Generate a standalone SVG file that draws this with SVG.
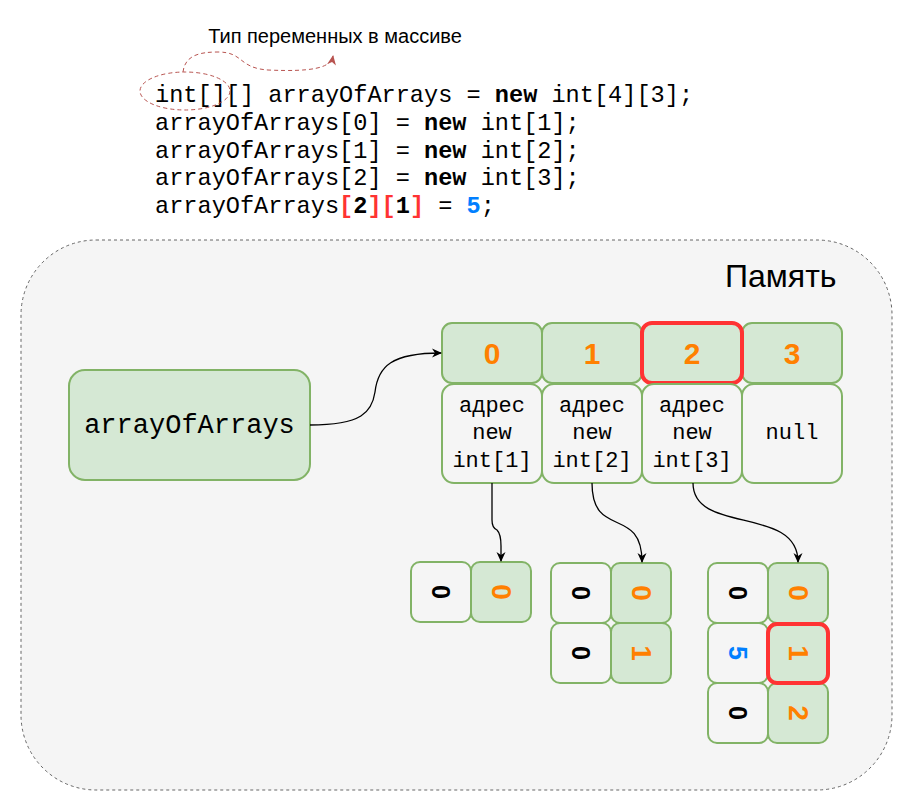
<svg xmlns="http://www.w3.org/2000/svg" width="912" height="812" viewBox="0 0 912 812">
<defs>
<style>
.code{font-family:"Liberation Mono","Courier New",monospace;font-size:23.6px;fill:#000;}
.b{font-weight:bold;}
.g{fill:#d5e8d4;stroke:#82b366;stroke-width:2;}
.w{fill:#f5f5f5;stroke:#82b366;stroke-width:2;}
.hl{fill:none;stroke:#ff3333;stroke-width:4;}
.idx{font-family:"Liberation Sans",Arial,sans-serif;font-size:30px;font-weight:bold;fill:#ff8000;text-anchor:middle;}
.mono{font-family:"Liberation Mono","Courier New",monospace;font-size:22px;fill:#000;text-anchor:middle;}
.rot{font-family:"Liberation Sans",Arial,sans-serif;font-size:25px;font-weight:bold;text-anchor:middle;dominant-baseline:central;}
.rot2{font-family:"Liberation Sans",Arial,sans-serif;font-size:28px;font-weight:bold;text-anchor:middle;dominant-baseline:central;fill:#ff8000;}
.conn{fill:none;stroke:#000;stroke-width:1.3;}
</style>
<marker id="arr" viewBox="0 0 10 10" refX="9" refY="5" markerWidth="10" markerHeight="10" markerUnits="userSpaceOnUse" orient="auto">
<path d="M0,0.5 L10,5 L0,9.5 L3,5 z" fill="#000"/>
</marker>
<marker id="arrR" viewBox="0 0 10 10" refX="9" refY="5" markerWidth="10" markerHeight="10" markerUnits="userSpaceOnUse" orient="auto">
<path d="M0,0.5 L10,5 L0,9.5 L3,5 z" fill="#b85450"/>
</marker>
</defs>
<rect width="912" height="812" fill="#ffffff"/>

<g id="memory">
<rect x="21" y="240" width="871" height="550" rx="75" ry="75" fill="#f5f5f5" stroke="#666666" stroke-dasharray="3,3" stroke-width="1"/>
<text x="725" y="287" font-family="Liberation Sans,Arial,sans-serif" font-size="32" fill="#000">Память</text>
</g>

<g id="title">
<text x="335" y="43" text-anchor="middle" font-family="Liberation Sans,Arial,sans-serif" font-size="20" fill="#000">Тип переменных в массиве</text>
</g>

<g id="code">
<text class="code" x="155" y="102">int[][] arrayOfArrays = <tspan class="b">new</tspan> int[4][3];</text>
<text class="code" x="155" y="130">arrayOfArrays[0] = <tspan class="b">new</tspan> int[1];</text>
<text class="code" x="155" y="158">arrayOfArrays[1] = <tspan class="b">new</tspan> int[2];</text>
<text class="code" x="155" y="185">arrayOfArrays[2] = <tspan class="b">new</tspan> int[3];</text>
<text class="code" x="155" y="213">arrayOfArrays<tspan class="b" fill="#ff3333">[</tspan><tspan class="b">2</tspan><tspan class="b" fill="#ff3333">][</tspan><tspan class="b">1</tspan><tspan class="b" fill="#ff3333">]</tspan> = <tspan class="b" fill="#007fff">5</tspan>;</text>
</g>

<g id="type-ellipse">
<ellipse cx="185" cy="91" rx="45" ry="19" fill="none" stroke="#b85450" stroke-dasharray="4,3" stroke-width="1"/>
</g>

<g id="var">
<rect class="g" x="69" y="370" width="241" height="110" rx="16"/>
<text x="189.5" y="433" text-anchor="middle" font-family="Liberation Mono,Courier New,monospace" font-size="27" fill="#000">arrayOfArrays</text>
</g>

<g id="outer-index">
<rect class="g" x="442" y="323" width="100" height="60" rx="10"/>
<text class="idx" x="492" y="364">0</text>
<rect class="g" x="542" y="323" width="100" height="60" rx="10"/>
<text class="idx" x="592" y="364">1</text>
<rect class="g" x="642" y="323" width="100" height="60" rx="10"/>
<text class="idx" x="692" y="364">2</text>
<rect class="g" x="742" y="323" width="100" height="60" rx="10"/>
<text class="idx" x="792" y="364">3</text>
<rect class="hl" x="642" y="323" width="100" height="60" rx="10"/>
</g>

<g id="outer-values">
<rect class="w" x="442" y="384" width="100" height="99" rx="12"/>
<text class="mono" x="492" y="412">адрес</text>
<text class="mono" x="492" y="439">new</text>
<text class="mono" x="492" y="467">int[1]</text>
<rect class="w" x="542" y="384" width="100" height="99" rx="12"/>
<text class="mono" x="592" y="412">адрес</text>
<text class="mono" x="592" y="439">new</text>
<text class="mono" x="592" y="467">int[2]</text>
<rect class="w" x="642" y="384" width="100" height="99" rx="12"/>
<text class="mono" x="692" y="412">адрес</text>
<text class="mono" x="692" y="439">new</text>
<text class="mono" x="692" y="467">int[3]</text>
<rect class="w" x="742" y="384" width="100" height="99" rx="12"/>
<text class="mono" x="792" y="439">null</text>
</g>

<g id="array0">
<rect class="w" x="411" y="562" width="60" height="60" rx="9"/>
<text class="rot" x="441" y="592" transform="rotate(90 441 592)" fill="#000">0</text>
<rect class="g" x="471" y="562" width="60" height="60" rx="9"/>
<text class="rot2" x="501" y="592" transform="rotate(90 501 592)">0</text>
</g>

<g id="array1">
<rect class="w" x="551" y="563" width="60" height="60" rx="9"/>
<text class="rot" x="581" y="593" transform="rotate(90 581 593)" fill="#000">0</text>
<rect class="g" x="611" y="563" width="60" height="60" rx="9"/>
<text class="rot2" x="641" y="593" transform="rotate(90 641 593)">0</text>
<rect class="w" x="551" y="623" width="60" height="60" rx="9"/>
<text class="rot" x="581" y="653" transform="rotate(90 581 653)" fill="#000">0</text>
<rect class="g" x="611" y="623" width="60" height="60" rx="9"/>
<text class="rot2" x="641" y="653" transform="rotate(90 641 653)">1</text>
</g>

<g id="array2">
<rect class="w" x="708" y="563" width="60" height="60" rx="9"/>
<text class="rot" x="738" y="593" transform="rotate(90 738 593)" fill="#000">0</text>
<rect class="g" x="768" y="563" width="60" height="60" rx="9"/>
<text class="rot2" x="798" y="593" transform="rotate(90 798 593)">0</text>
<rect class="w" x="708" y="623" width="60" height="60" rx="9"/>
<text class="rot" x="738" y="653" transform="rotate(90 738 653)" fill="#007fff" font-size="23">5</text>
<rect class="g" x="768" y="623" width="60" height="60" rx="9"/>
<text class="rot2" x="798" y="653" transform="rotate(90 798 653)">1</text>
<rect class="w" x="708" y="683" width="60" height="60" rx="9"/>
<text class="rot" x="738" y="713" transform="rotate(90 738 713)" fill="#000">0</text>
<rect class="g" x="768" y="683" width="60" height="60" rx="9"/>
<text class="rot2" x="798" y="713" transform="rotate(90 798 713)">2</text>
<rect class="hl" x="768" y="624" width="60" height="59" rx="9"/>
</g>

<g id="connectors">
<path class="conn" d="M310,425 C362,425 372,412 375,392 C378,366 392,353 441,353" marker-end="url(#arr)"/>
<path class="conn" d="M492,483 L492,520 Q492,528 497,530 Q501,534 501,546 L501,561" marker-end="url(#arr)"/>
<path class="conn" d="M592,483 C592,540 642,505 642,562" marker-end="url(#arr)"/>
<path class="conn" d="M693,483 C693,535 798,505 798,562" marker-end="url(#arr)"/>
<path d="M183,72 C185,56 198,52 218,52 C244,52 238,68 268,70 C312,72 331,68 333,56" fill="none" stroke="#b85450" stroke-dasharray="4,3" stroke-width="1" marker-end="url(#arrR)"/>
</g>
</svg>
